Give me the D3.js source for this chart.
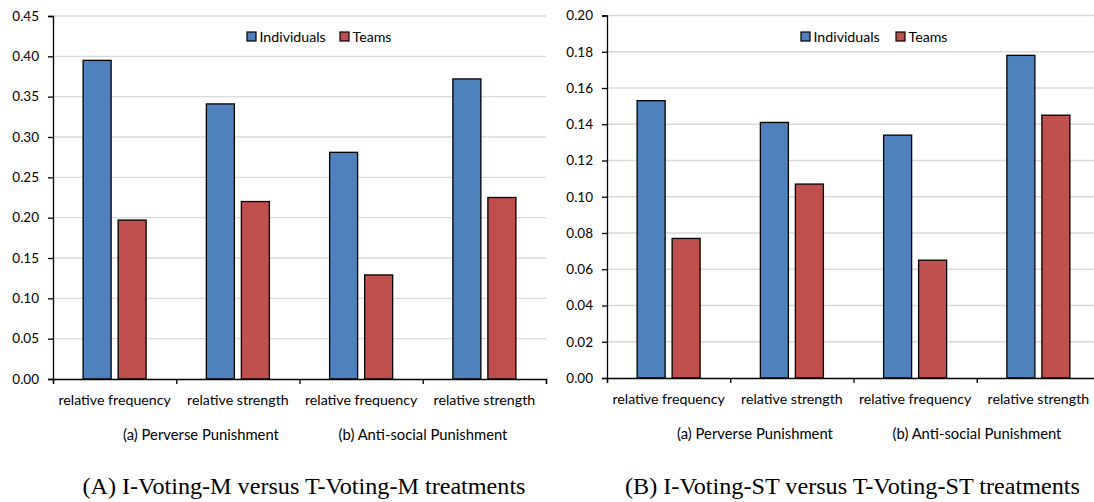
<!DOCTYPE html>
<html><head><meta charset="utf-8">
<script src="https://cdn.jsdelivr.net/npm/d3@7"></script>
<style>body{margin:0;background:#fff}svg{display:block}</style>
</head><body>
<svg id="c" width="1094" height="502"></svg>
<script>
const categories = ["relative frequency","relative strength","relative frequency","relative strength"];
const series = ["Individuals","Teams"];
const groupLabels = ["(a) Perverse Punishment","(b) Anti-social Punishment"];
const leftIndividuals = [0.395,0.341,0.281,0.372];
const leftTeams = [0.197,0.220,0.129,0.225];
const rightIndividuals = [0.153,0.141,0.134,0.178];
const rightTeams = [0.077,0.107,0.065,0.145];
const leftTicks = [0,0.05,0.10,0.15,0.20,0.25,0.30,0.35,0.40,0.45];
const rightTicks = [0,0.02,0.04,0.06,0.08,0.10,0.12,0.14,0.16,0.18,0.20];
const captions = ["(A) I-Voting-M versus T-Voting-M treatments","(B) I-Voting-ST versus T-Voting-ST treatments"];
const colors = {Individuals:"#4f81bd",Teams:"#c0504d"};
const font = "Lato, 'Open Sans', sans-serif";

const svg = d3.select("#c");

function chart(cfg){
  const g = svg.append("g");
  const y = d3.scaleLinear().domain([0,cfg.max]).range([cfg.y0,cfg.y1]);
  const x0 = d3.scaleBand().domain(d3.range(categories.length)).range([cfg.x0,cfg.x0+4*123.25]);
  const x1 = d3.scaleBand().domain(series).range([0,x0.bandwidth()]).paddingInner(0.2).paddingOuter(0.86);
  // grid
  g.append("g").selectAll("line").data(cfg.ticks.slice(1)).join("line")
    .attr("x1",cfg.x0).attr("x2",cfg.x0+4*123.25)
    .attr("y1",d=>y(d)).attr("y2",d=>y(d))
    .attr("stroke","#d9d9d9").attr("stroke-width",1.3);
  // bars
  const data = categories.map((c,i)=>({i, vals:[{s:"Individuals",v:cfg.ind[i]},{s:"Teams",v:cfg.team[i]}]}));
  g.append("g").selectAll("g").data(data).join("g")
    .attr("transform",d=>`translate(${x0(d.i)},0)`)
    .selectAll("rect").data(d=>d.vals).join("rect")
    .attr("x",d=>x1(d.s)).attr("width",x1.bandwidth())
    .attr("y",d=>y(d.v)).attr("height",d=>y(0)-y(d.v))
    .attr("fill",d=>colors[d.s]).attr("stroke","#000").attr("stroke-width",1.3);
  // y axis
  const ya = d3.axisLeft(y).tickValues(cfg.ticks).tickFormat(d3.format(".2f")).tickSize(5).tickPadding(9);
  const yg = g.append("g").attr("transform",`translate(${cfg.x0},0)`).call(ya);
  yg.select(".domain").attr("stroke","#000").attr("stroke-width",1.3);
  yg.selectAll(".tick line").attr("stroke","#000").attr("stroke-width",1.3);
  yg.selectAll("text").attr("font-family",font).attr("font-size",13.5).attr("fill","#000");
  // x axis
  const xa = d3.scaleLinear().domain([0,4]).range([cfg.x0,cfg.x0+4*123.25]);
  const xg = g.append("g").attr("transform",`translate(0,${y(0)})`)
    .call(d3.axisBottom(xa).tickValues([0,1,2,3,4]).tickSize(5).tickFormat(""));
  xg.select(".domain").attr("stroke","#000").attr("stroke-width",1.3);
  xg.selectAll(".tick line").attr("stroke","#000").attr("stroke-width",1.3);
  g.append("g").selectAll("text").data(categories).join("text")
    .attr("x",(d,i)=>x0(i)+x0.bandwidth()/2).attr("y",y(0)+26)
    .attr("text-anchor","middle").attr("font-family",font).attr("font-size",14.2).text(d=>d);
  g.append("g").selectAll("text").data(groupLabels).join("text")
    .attr("x",(d,i)=>cfg.gx[i]).attr("y",y(0)+61)
    .attr("text-anchor","middle").attr("font-family",font).attr("font-size",14.8).text(d=>d);
  // legend
  const lg = g.append("g").selectAll("g").data(series).join("g")
    .attr("transform",(d,i)=>`translate(${cfg.lx[i]},32)`);
  lg.append("rect").attr("width",9).attr("height",9).attr("fill",d=>colors[d]).attr("stroke","#000").attr("stroke-width",1.2);
  lg.append("text").attr("x",12.5).attr("y",10).attr("font-family",font).attr("font-size",14.2).text(d=>d);
  // caption
  svg.append("text").attr("x",cfg.cx).attr("y",494).attr("text-anchor","middle")
    .attr("font-family","'Liberation Serif', 'Times New Roman', serif").attr("font-size",23)
    .attr("textLength",cfg.cw).attr("lengthAdjust","spacingAndGlyphs").text(cfg.caption);
}

chart({x0:53,y0:379,y1:16,max:0.45,ticks:leftTicks,ind:leftIndividuals,team:leftTeams,
  gx:[201,423],lx:[247,340],cx:304,cw:443,caption:captions[0]});
chart({x0:607,y0:378,y1:15.5,max:0.20,ticks:rightTicks,ind:rightIndividuals,team:rightTeams,
  gx:[755,977],lx:[801,896],cx:852.5,cw:455,caption:captions[1]});
</script>
</body></html>
